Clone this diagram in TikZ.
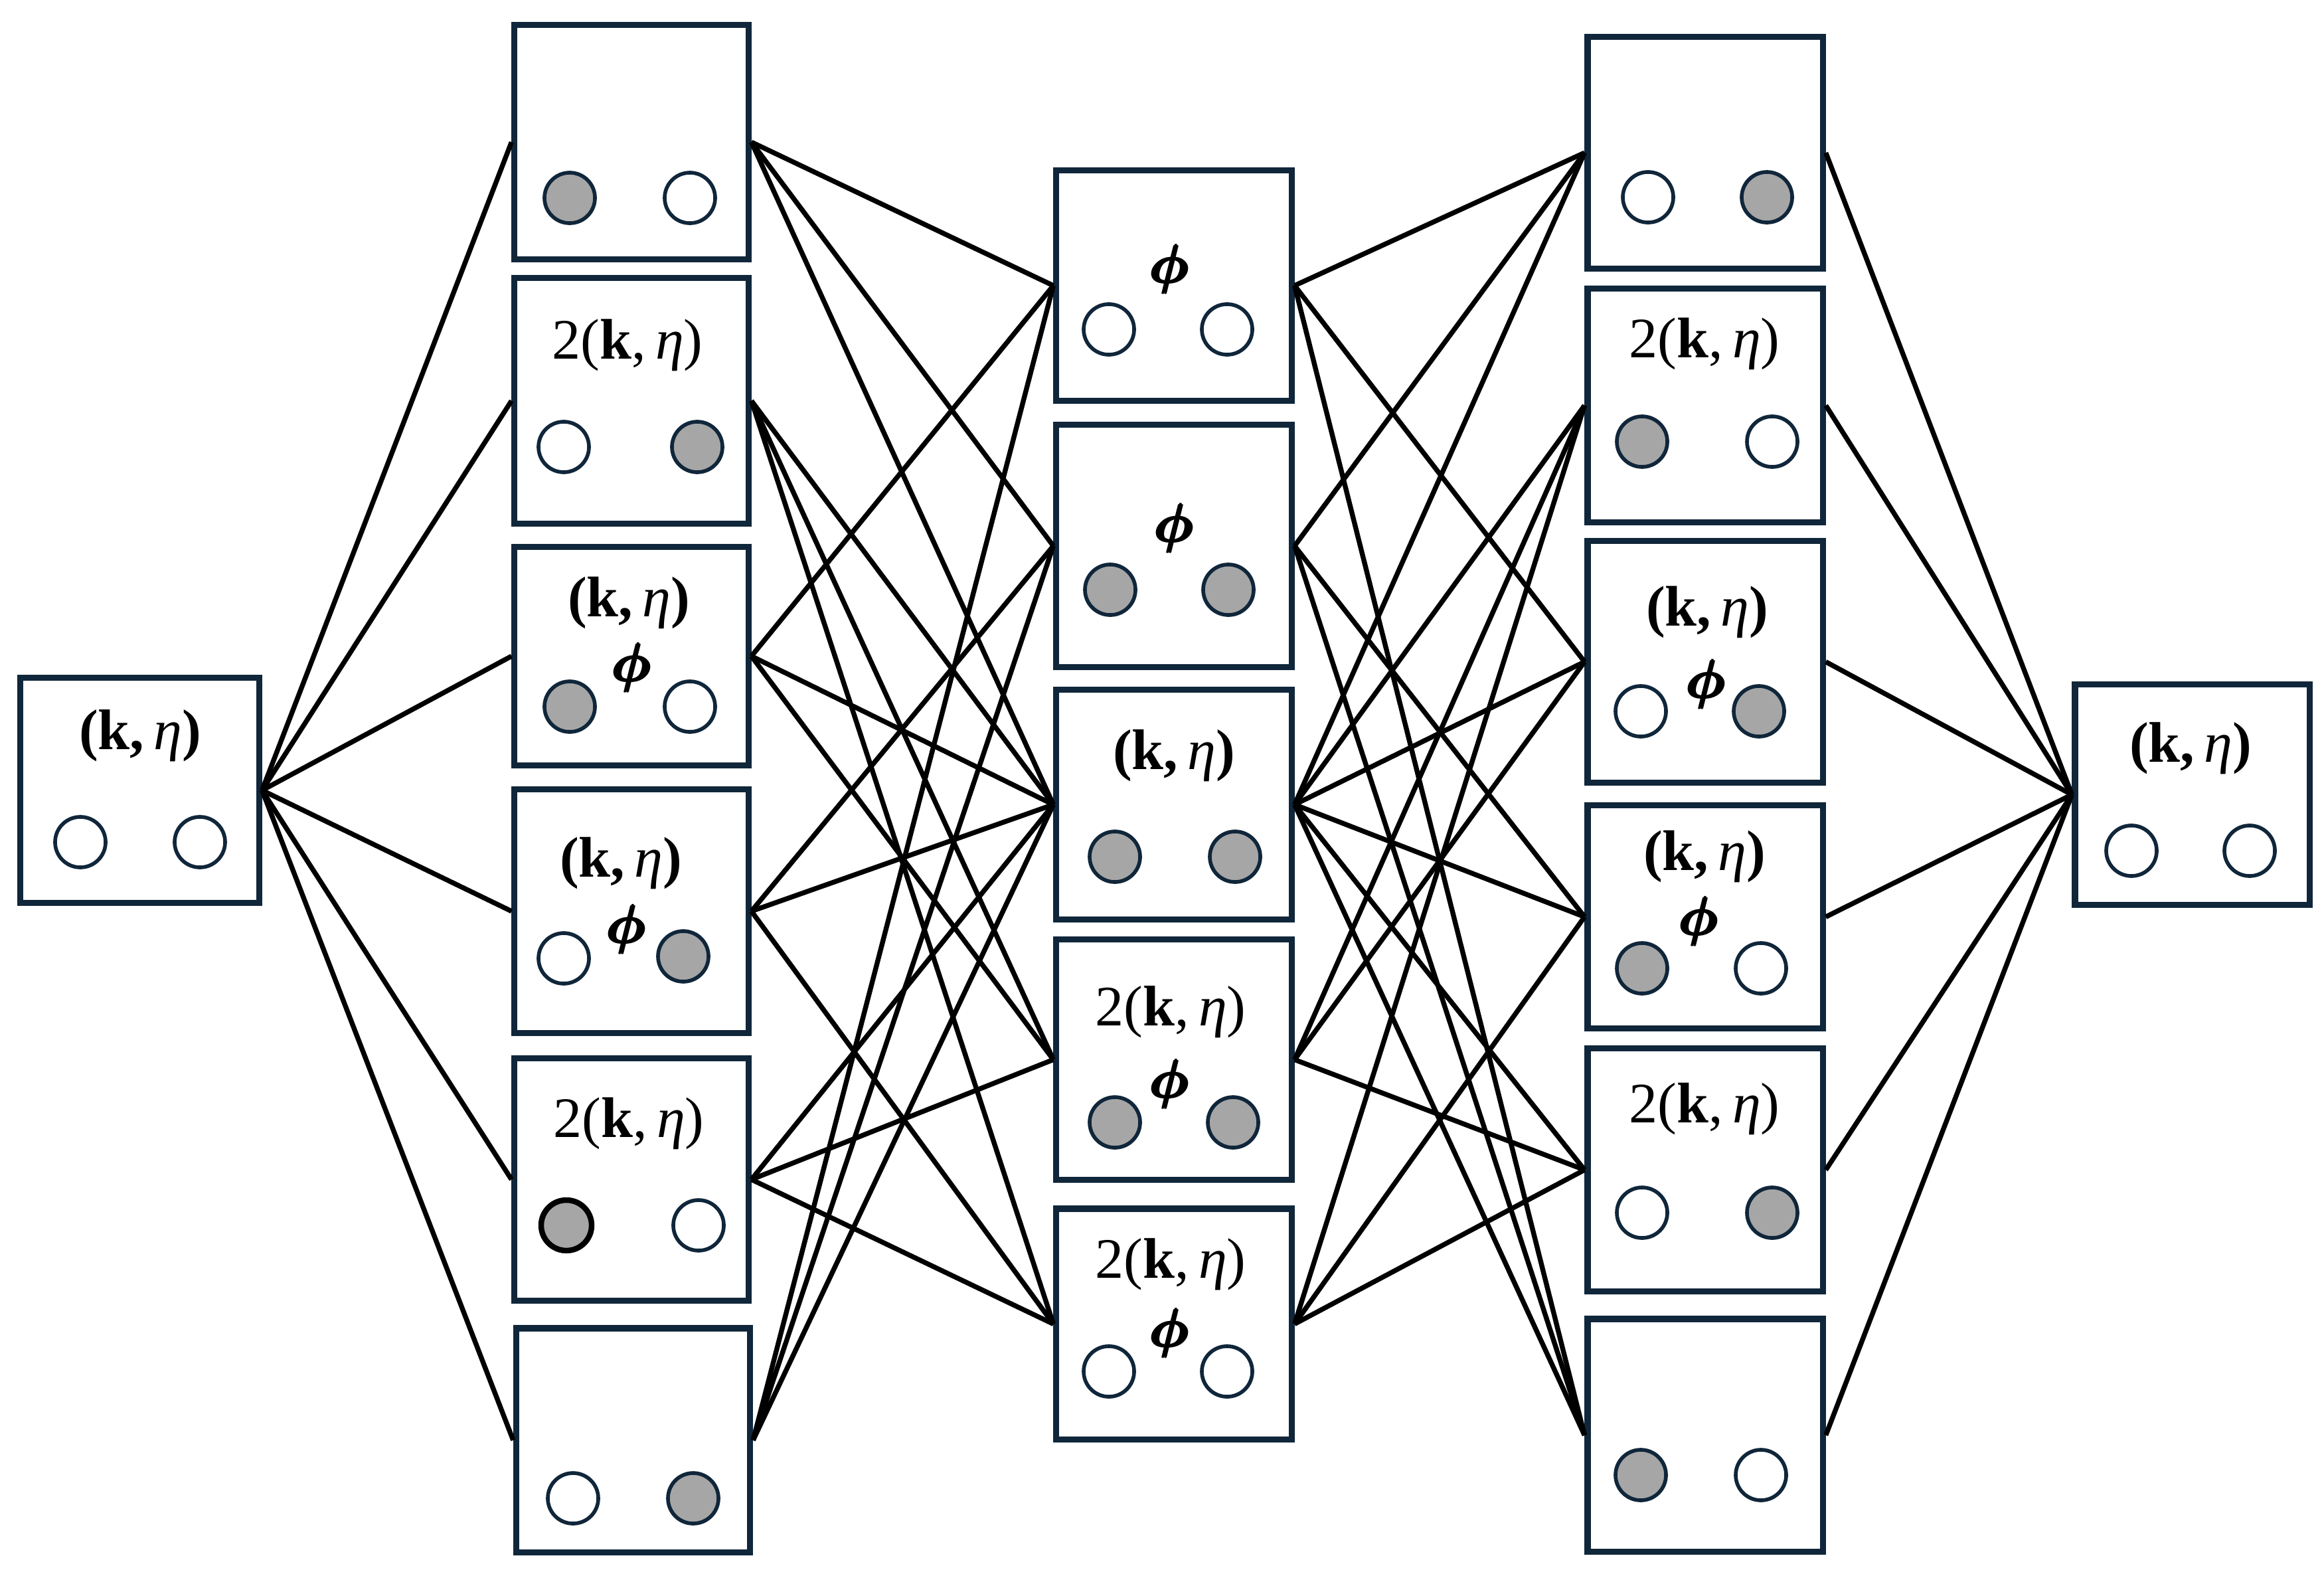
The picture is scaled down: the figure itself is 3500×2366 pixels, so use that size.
\documentclass[tikz,border=0pt]{standalone}
\usepackage{amsmath,amssymb,bm,graphicx}
\usepackage[no-math]{fontspec}
\setmainfont{Liberation Serif}
\definecolor{navy}{HTML}{10263A}
\definecolor{cgray}{HTML}{A6A6A6}
\newcommand\myKE{{\bfseries(k,}\,\textit{η}{\bfseries)}}
\newcommand\myKEE{2({\bfseries k},\,\textit{η})}
\newcommand\myPHI{\scalebox{1.35}{\LARGE\boldmath$\pmb{\phi}$}}
\begin{document}
\begin{tikzpicture}[x=0.01cm,y=-0.01cm,
  box/.style={draw=navy, line width=2.6pt, fill=white, inner sep=0pt, minimum width=3.52cm},
  oc/.style={circle, draw=navy, line width=1.6pt, fill=white, minimum size=0.76cm, inner sep=0pt},
  fc/.style={oc, fill=cgray},
  bc/.style={oc, fill=cgray, draw=black, line width=2.4pt},
  lab/.style={inner sep=0pt, font=\fontsize{24.5}{29}\selectfont},
  conn/.style={line width=2.1pt, black}]
\useasboundingbox (0,0) rectangle (3500,2366);

% ---------- boxes ----------
\node[box, minimum width=3.59cm, minimum height=3.38cm] (L0) at (210.5,1190) {};
\node[box, minimum height=3.52cm] (L1) at (951,214) {};
\node[box, minimum height=3.69cm] (L2) at (951,603.5) {};
\node[box, minimum height=3.28cm] (L3) at (951,988) {};
\node[box, minimum height=3.66cm] (L4) at (951,1372) {};
\node[box, minimum height=3.64cm] (L5) at (951,1776) {};
\node[box, minimum height=3.37cm] (L6) at (953.5,2168.5) {};

\node[box, minimum width=3.54cm, minimum height=3.46cm] (M1) at (1768,430) {};
\node[box, minimum width=3.54cm, minimum height=3.64cm] (M2) at (1768,822) {};
\node[box, minimum width=3.54cm, minimum height=3.45cm] (M3) at (1768,1211.5) {};
\node[box, minimum width=3.54cm, minimum height=3.61cm] (M4) at (1768,1595.5) {};
\node[box, minimum width=3.54cm, minimum height=3.47cm] (M5) at (1768,1993.5) {};

\node[box, minimum width=3.54cm, minimum height=3.48cm] (R1) at (2568,230) {};
\node[box, minimum width=3.54cm, minimum height=3.51cm] (R2) at (2568,610.5) {};
\node[box, minimum width=3.54cm, minimum height=3.63cm] (R3) at (2568,996.5) {};
\node[box, minimum width=3.54cm, minimum height=3.35cm] (R4) at (2568,1380.5) {};
\node[box, minimum width=3.54cm, minimum height=3.65cm] (R5) at (2568,1761.5) {};
\node[box, minimum width=3.54cm, minimum height=3.50cm] (R6) at (2568,2161) {};

\node[box, minimum width=3.53cm, minimum height=3.31cm] (R0) at (3301.5,1196.5) {};

% ---------- connectors ----------
\foreach \b in {L1,L2,L3,L4,L5,L6} \draw[conn] (L0.east) -- (\b.west);
\foreach \b in {R1,R2,R3,R4,R5,R6} \draw[conn] (\b.east) -- (R0.west);
\foreach \a/\b in {1/1,1/2,1/3, 2/3,2/4,2/5, 3/1,3/3,3/4, 4/2,4/3,4/5, 5/3,5/4,5/5, 6/1,6/2,6/3}{
  \draw[conn] (L\a.east) -- (M\b.west);
  \draw[conn] (M\b.east) -- (R\a.west);
}

% ---------- contents: left ----------
\node[lab] (L0t) at (211,1108) {\myKE};
\node[oc] (L0a) at (121,1268) {};
\node[oc] (L0b) at (301,1268) {};

\node[fc] (L1a) at (858,298) {};
\node[oc] (L1b) at (1039,298) {};

\node[lab] (L2t) at (945,520) {\myKEE};
\node[oc] (L2a) at (849,673) {};
\node[fc] (L2b) at (1050,673) {};

\node[lab] (L3t) at (947,908) {\myKE};
\node[lab] (L3p) at (953,1005) {\myPHI};
\node[fc] (L3a) at (858,1064) {};
\node[oc] (L3b) at (1039,1064) {};

\node[lab] (L4t) at (935,1300) {\myKE};
\node[lab] (L4p) at (945,1399) {\myPHI};
\node[oc] (L4a) at (849,1443) {};
\node[fc] (L4b) at (1029,1440) {};

\node[lab] (L5t) at (947,1692) {\myKEE};
\node[bc] (L5a) at (853,1845) {};
\node[oc] (L5b) at (1052,1845) {};

\node[oc] (L6a) at (863,2256) {};
\node[fc] (L6b) at (1044,2256) {};

% ---------- contents: middle ----------
\node[lab] (M1p) at (1763,405) {\myPHI};
\node[oc] (M1a) at (1670,496) {};
\node[oc] (M1b) at (1848,496) {};

\node[lab] (M2p) at (1770,795) {\myPHI};
\node[fc] (M2a) at (1672,888) {};
\node[fc] (M2b) at (1850,888) {};

\node[lab] (M3t) at (1768,1138) {\myKE};
\node[fc] (M3a) at (1679,1290) {};
\node[fc] (M3b) at (1860,1290) {};

\node[lab] (M4t) at (1763,1524) {\myKEE};
\node[lab] (M4p) at (1763,1632) {\myPHI};
\node[fc] (M4a) at (1679,1690) {};
\node[fc] (M4b) at (1857,1690) {};

\node[lab] (M5t) at (1763,1904) {\myKEE};
\node[lab] (M5p) at (1763,2007) {\myPHI};
\node[oc] (M5a) at (1670,2065) {};
\node[oc] (M5b) at (1848,2065) {};

% ---------- contents: right ----------
\node[oc] (R1a) at (2482,297) {};
\node[fc] (R1b) at (2661,297) {};

\node[lab] (R2t) at (2567,518) {\myKEE};
\node[fc] (R2a) at (2473,665) {};
\node[oc] (R2b) at (2669,665) {};

\node[lab] (R3t) at (2571,922) {\myKE};
\node[lab] (R3p) at (2571,1030) {\myPHI};
\node[oc] (R3a) at (2471,1071) {};
\node[fc] (R3b) at (2649,1071) {};

\node[lab] (R4t) at (2567,1290) {\myKE};
\node[lab] (R4p) at (2560,1387) {\myPHI};
\node[fc] (R4a) at (2473,1458) {};
\node[oc] (R4b) at (2652,1458) {};

\node[lab] (R5t) at (2567,1670) {\myKEE};
\node[oc] (R5a) at (2473,1826) {};
\node[fc] (R5b) at (2669,1826) {};

\node[fc] (R6a) at (2471,2221) {};
\node[oc] (R6b) at (2652,2221) {};

\node[lab] (R0t) at (3299,1127) {\myKE};
\node[oc] (R0a) at (3210,1281) {};
\node[oc] (R0b) at (3388,1281) {};
\end{tikzpicture}
\end{document}
